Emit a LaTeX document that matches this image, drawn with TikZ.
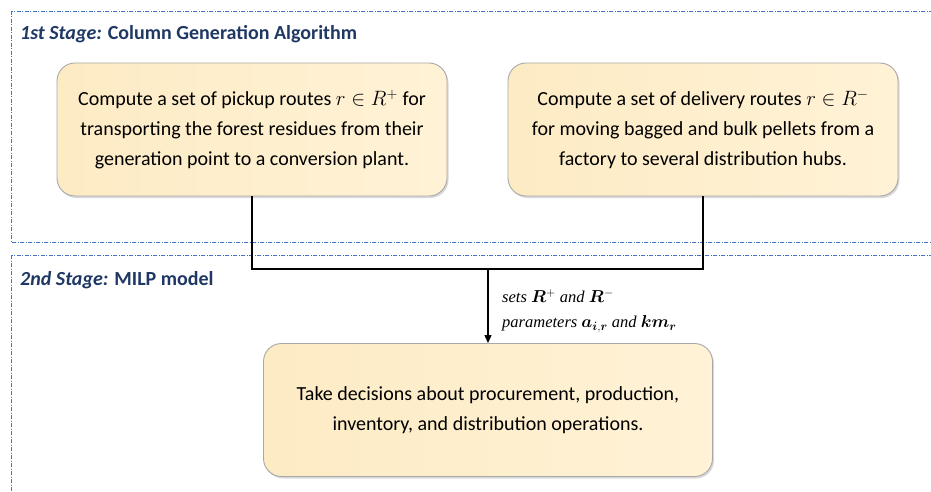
\documentclass[tikz,border=0pt]{standalone}
\usepackage{amsmath,bm}
\usepackage{fontspec}
\setmainfont{Carlito}
\newfontfamily\timesfont{Liberation Serif}
\usetikzlibrary{shadows,arrows.meta}
\definecolor{frameblue}{HTML}{4472C4}
\definecolor{navy}{HTML}{1F3864}
\definecolor{fillA}{HTML}{FDEBC4}
\definecolor{fillB}{HTML}{FFF2D6}
\definecolor{edgegray}{HTML}{A8A8A8}
\tikzset{
  frame/.style={draw=frameblue, line width=0.7pt, dash pattern=on 4pt off 1.5pt on 1pt off 1.5pt},
  card/.style={rounded corners=18pt, draw=edgegray, line width=0.9pt, left color=fillA, right color=fillB,
    minimum width=390pt, minimum height=133pt, align=center, inner sep=0pt,
    font=\fontsize{20}{30}\selectfont,
    drop shadow={opacity=0.3, shadow xshift=1.5pt, shadow yshift=-2pt}},
  title/.style={anchor=west, text=navy, font=\fontsize{20}{24}\selectfont\bfseries, inner sep=0pt},
  conn/.style={draw=black, line width=1.2pt},
  lbl/.style={anchor=west, inner sep=0pt, font=\fontsize{16.5}{20}\selectfont\timesfont\itshape}
}
\begin{document}
\begin{tikzpicture}[x=1pt,y=-1pt]
\useasboundingbox (0,0) rectangle (931,492);
\clip (0,0) rectangle (931,492);
\draw[frame] (11,11) rectangle (945,242);
\draw[frame] (11,255) rectangle (945,510);
\node[title] (t1) at (20,34) {\textit{1st Stage:} Column Generation Algorithm};
\node[title] (t2) at (20,280) {\textit{2nd Stage:} MILP model};
\node[card] (p) at (252,129.5) {Compute a set of pickup routes $r \in R^{+}$ for\\transporting the forest residues from their\\generation point to a conversion plant.};
\node[card] (d) at (703,129.5) {Compute a set of delivery routes $r \in R^{-}$\\for moving bagged and bulk pellets from a\\factory to several distribution hubs.};
\node[card, minimum width=449pt] (m) at (488,410) {Take decisions about procurement, production,\\inventory, and distribution operations.};
\coordinate (j) at (488,269);
\draw[conn] (p.south) |- (j) -| (d.south);
\draw[conn, -{Triangle[length=8pt,width=7pt]}] (j) -- (m.north);
\node[lbl] (l1) at (502,296) {sets $\bm{R}^{+}$ and $\bm{R}^{-}$};
\node[lbl] (l2) at (502,324) {parameters $\bm{a}_{\bm{i},\bm{r}}$ and $\bm{km}_{\bm{r}}$};
\end{tikzpicture}
\end{document}
